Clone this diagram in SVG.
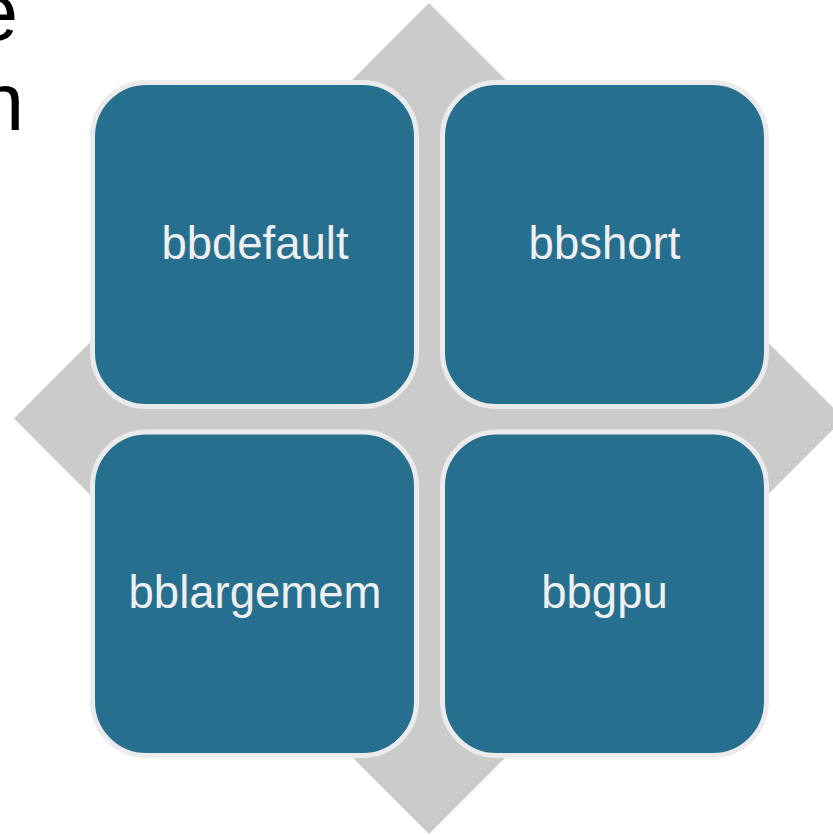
<svg xmlns="http://www.w3.org/2000/svg" width="833" height="835" viewBox="0 0 833 835">
<style>
.box{fill:#276f8f;stroke:#ebebeb;stroke-width:5}
.lbl{font-family:"Liberation Sans",Arial,sans-serif;font-size:45.5px;fill:#efefef;text-anchor:middle}
.ttl{font-family:"Liberation Sans",Arial,sans-serif;font-size:81px;fill:#000}
</style>
<rect width="833" height="835" fill="#fff"/>
<text class="ttl" x="-27" y="40">e</text>
<text class="ttl" x="-21" y="130">n</text>
<g id="background">
<polygon points="429,3 844,418.5 429,834 14,418.5" fill="#cbcbcb"/>
</g>
<g id="connectors"></g>
<g id="bbdefault">
<rect class="box" x="92.5" y="82.5" width="324" height="324" rx="54"/>
<text class="lbl" x="255" y="258.5">bbdefault</text>
</g>
<g id="bbshort">
<rect class="box" x="442.5" y="82.5" width="324" height="324" rx="54"/>
<text class="lbl" x="604.5" y="258.5">bbshort</text>
</g>
<g id="bblargemem">
<rect class="box" x="92.5" y="432" width="324" height="323.5" rx="54"/>
<text class="lbl" x="255" y="608">bblargemem</text>
</g>
<g id="bbgpu">
<rect class="box" x="442.5" y="432" width="324" height="323.5" rx="54"/>
<text class="lbl" x="604.5" y="608">bbgpu</text>
</g>
</svg>
